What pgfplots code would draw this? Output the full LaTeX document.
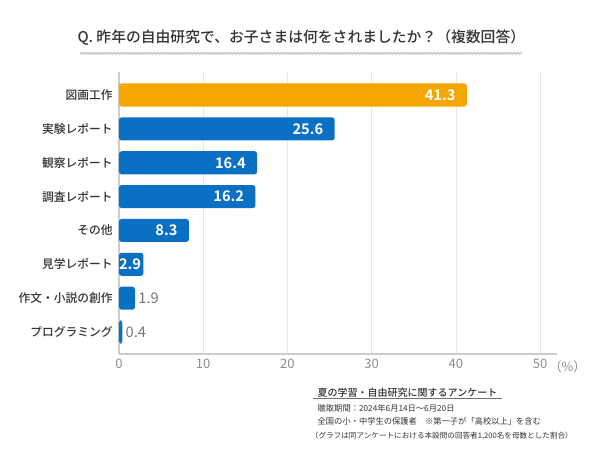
\documentclass[border=0pt]{standalone}
\usepackage{pgfplots}
\pgfplotsset{compat=1.18}
\usepackage{fontspec}
\setmainfont{Noto Sans CJK JP}[BoldFont={Noto Sans CJK JP Bold}]
\newfontfamily\medfont{Noto Sans CJK JP Medium}
\usetikzlibrary{decorations.pathmorphing}
\definecolor{barorange}{RGB}{246,166,0}
\definecolor{barblue}{RGB}{10,112,196}
\definecolor{txtdark}{RGB}{51,51,51}
\definecolor{ticktxt}{RGB}{140,140,140}
\begin{document}
\begin{tikzpicture}
\path[use as bounding box] (0,0) rectangle (450pt,337.5pt);
\node[font=\medfont\fontsize{11.1}{14}\selectfont, text=txtdark] at (226pt,309pt) {Q. 昨年の自由研究で、お子さまは何をされましたか？（複数回答）};
\draw[gray!40, line width=1.3pt, decorate, decoration={snake, amplitude=0.4pt, segment length=2.5pt}] (60pt,297.5pt) -- (391.5pt,297.5pt);
\begin{axis}[
  at={(89.25pt,72pt)}, anchor=south west,
  scale only axis, width=328.5pt, height=211.5pt,
  xmin=0, xmax=52, ymin=-0.68, ymax=7.65, y dir=reverse,
  xtick={0,10,20,30,40,50},
  ytick={0,1,2,3,4,5,6,7},
  yticklabels={図画工作,実験レポート,観察レポート,調査レポート,その他,見学レポート,作文・小説の創作,プログラミング},
  yticklabel style={font=\medfont\fontsize{8.8}{10}\selectfont, text=txtdark, xshift=3pt},
  xticklabel style={font=\fontsize{9.8}{11}\selectfont, text=ticktxt},
  /pgf/number format/assume math mode=true,
  tick style={draw=none},
  axis x line*=bottom, axis y line*=left,
  axis line style={draw=gray!40, line width=0.8pt},
  x axis line style={-}, y axis line style={-},
  xmajorgrids, grid style={draw=gray!18, line width=0.6pt},
  xbar, bar width=17.3pt, bar shift=0pt,
  clip=false,
]
\addplot[fill=barorange, draw=none, rounded corners=2pt,
  nodes near coords, nodes near coords style={anchor=east, xshift=-5pt, text=white, font=\fontsize{11}{12}\selectfont\bfseries},
  point meta=explicit symbolic]
  coordinates {(41.3,0) [41.3]};
\addplot[fill=barblue, draw=none, rounded corners=2pt,
  nodes near coords, nodes near coords style={anchor=east, xshift=-5pt, text=white, font=\fontsize{11}{12}\selectfont\bfseries},
  point meta=explicit symbolic]
  coordinates {(25.6,1) [25.6] (16.4,2) [16.4] (16.2,3) [16.2] (8.3,4) [8.3]};
\addplot[fill=barblue, draw=none, rounded corners=2pt,
  nodes near coords, nodes near coords style={anchor=east, xshift=1.8pt, text=white, font=\fontsize{11}{12}\selectfont\bfseries},
  point meta=explicit symbolic]
  coordinates {(2.9,5) [2.9]};
\addplot[fill=barblue, draw=none, rounded corners=2pt,
  nodes near coords, nodes near coords style={anchor=west, xshift=-1pt, text=ticktxt!85!black, font=\fontsize{11}{12}\selectfont},
  point meta=explicit symbolic]
  coordinates {(1.9,6) [1.9] (0.4,7) [0.4]};
\node[anchor=west, font=\fontsize{9.5}{11}\selectfont, text=ticktxt] at (axis cs:50.5,7.65) [yshift=-9.5pt] {（\%）};
\end{axis}
\node[anchor=base west, font=\medfont\fontsize{7.5}{9}\selectfont, text=txtdark] (h) at (234.75pt,40pt) {夏の学習・自由研究に関するアンケート};
\draw[txtdark!70, line width=0.4pt] ([yshift=-1.5pt]h.base west) -- ([yshift=-1.5pt]h.base east);
\node[anchor=base west, font=\fontsize{6.2}{7.5}\selectfont, text=txtdark] at (234.75pt,29pt) {聴取期間：2024年6月14日～6月20日};
\node[anchor=base west, font=\fontsize{6.2}{7.5}\selectfont, text=txtdark] at (234.75pt,19.25pt) {全国の小・中学生の保護者　※第一子が「高校以上」を含む};
\node[anchor=base west, font=\fontsize{5.7}{7.5}\selectfont, text=txtdark, inner sep=0pt] at (233pt,8.75pt) {（グラフは同アンケートにおける本設問の回答者1,200名を母数とした割合）};
\end{tikzpicture}
\end{document}
